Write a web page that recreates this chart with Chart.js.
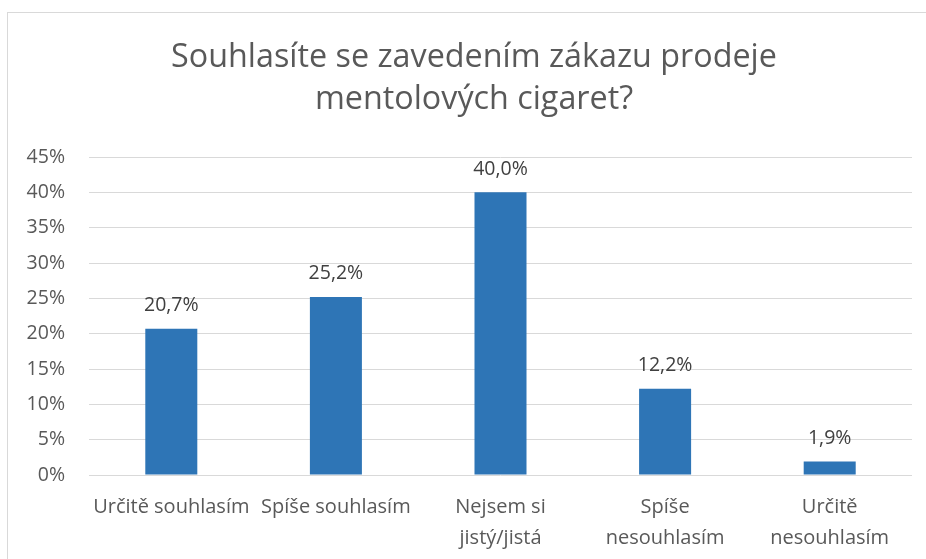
<!DOCTYPE html>
<html>
<head>
<meta charset="utf-8">
<script src="https://cdn.jsdelivr.net/npm/chart.js@4"></script>
<style>
html,body{margin:0;padding:0;background:#fff;overflow:hidden;}
#wrap{position:relative;width:926px;height:559px;}
#frame{position:absolute;left:7px;top:12px;width:940px;height:600px;border:1px solid #d9d9d9;box-sizing:border-box;}
canvas{position:absolute;left:0;top:0;}
</style>
</head>
<body>
<div id="wrap"><div id="frame"></div><canvas id="c" width="926" height="559"></canvas></div>
<script>
const titleLines = ["Souhlasíte se zavedením zákazu prodeje", "mentolových cigaret?"];
const categories = ["Určitě souhlasím", "Spíše souhlasím", ["Nejsem si", "jistý/jistá"], ["Spíše", "nesouhlasím"], ["Určitě", "nesouhlasím"]];
const values = [20.7, 25.2, 40.0, 12.2, 1.9];
const yMin = 0, yMax = 45, yStep = 5;

const FONT = "'Open Sans', Lato, sans-serif";

const valueLabels = {
  id: 'valueLabels',
  afterDatasetsDraw(chart) {
    const ctx = chart.ctx;
    const meta = chart.getDatasetMeta(0);
    ctx.save();
    ctx.font = "19.5px " + FONT;
    ctx.fillStyle = "#404040";
    ctx.textAlign = "center";
    ctx.textBaseline = "middle";
    meta.data.forEach((bar, i) => {
      const v = chart.data.datasets[0].data[i];
      ctx.fillText(v.toFixed(1).replace('.', ',') + '%', bar.x, bar.y - 23);
    });
    ctx.restore();
  }
};

const chartTitle = {
  id: 'chartTitle',
  afterDraw(chart) {
    const ctx = chart.ctx;
    ctx.save();
    ctx.font = "32.3px " + FONT;
    ctx.fillStyle = "#595959";
    ctx.textAlign = "center";
    ctx.textBaseline = "middle";
    titleLines.forEach((line, i) => ctx.fillText(line, 474, 58 + i * 42));
    ctx.restore();
  }
};

new Chart(document.getElementById('c'), {
  type: 'bar',
  data: {
    labels: categories,
    datasets: [{
      data: values,
      backgroundColor: '#2e75b6',
      borderWidth: 0,
      categoryPercentage: 1,
      barPercentage: 0.316
    }]
  },
  options: {
    responsive: false,
    animation: false,
    devicePixelRatio: 1,
    layout: { padding: { left: 0, right: 14, top: 157, bottom: 0 } },
    plugins: {
      legend: { display: false },
      tooltip: { enabled: false },
      title: { display: false }
    },
    scales: {
      x: {
        grid: { display: false, drawTicks: false },
        border: { display: false },
        ticks: {
          color: '#595959',
          font: { family: FONT, size: 20, lineHeight: 1.55 },
          maxRotation: 0, minRotation: 0, autoSkip: false,
          padding: 17
        },
        afterFit(s) { s.height = 84; }
      },
      y: {
        min: yMin, max: yMax,
        grid: { color: '#d9d9d9', lineWidth: 1, drawTicks: false },
        border: { display: false },
        ticks: {
          stepSize: yStep,
          color: '#595959',
          font: { family: FONT, size: 19.5 },
          padding: 24,
          callback: v => v + '%'
        },
        afterFit(s) { s.width = 89; }
      }
    }
  },
  plugins: [valueLabels, chartTitle]
});
</script>
</body>
</html>
